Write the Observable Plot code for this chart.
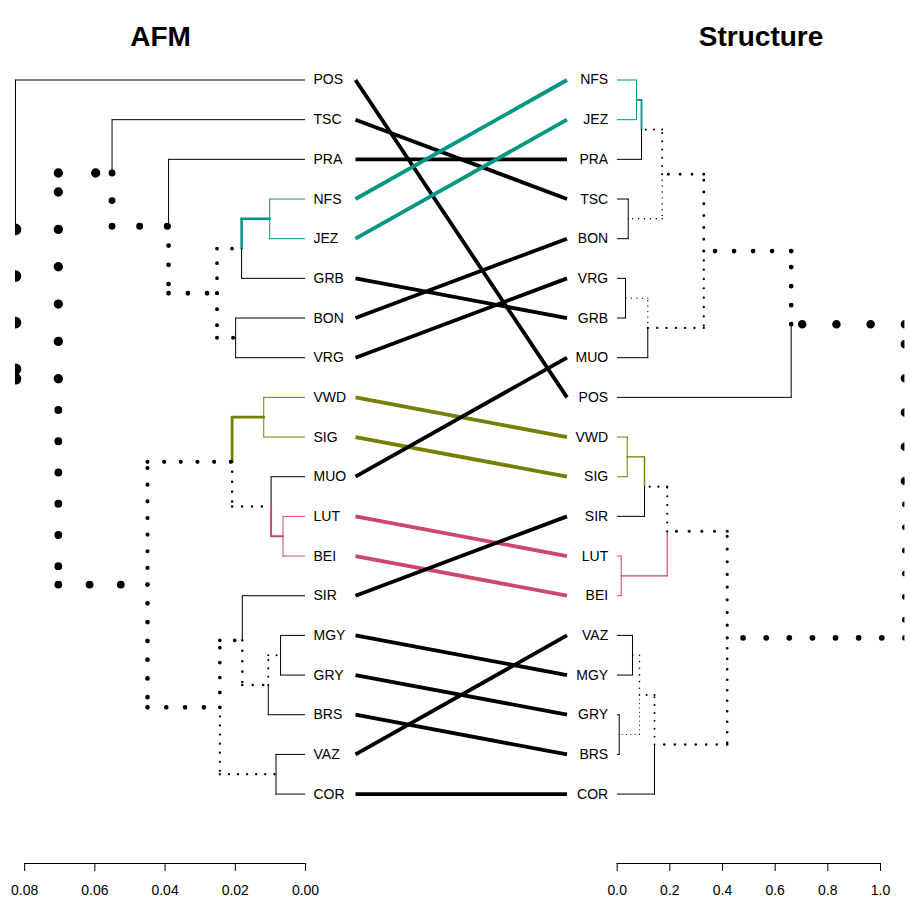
<!DOCTYPE html>
<html>
<head>
<meta charset="utf-8">
<script src="https://cdn.jsdelivr.net/npm/d3@7"></script>
<script src="https://cdn.jsdelivr.net/npm/@observablehq/plot@0.6"></script>
<style>
  body { margin: 0; background: #fff; }
  #chart { position: relative; width: 910px; height: 902px; }
  #chart svg { position: absolute; left: 0; top: 0; }
</style>
</head>
<body>
<div id="chart"></div>
<script>
// Leaf order of each dendrogram, top to bottom
const afmLeaves = ["POS","TSC","PRA","NFS","JEZ","GRB","BON","VRG","VWD","SIG","MUO","LUT","BEI","SIR","MGY","GRY","BRS","VAZ","COR"];
const structureLeaves = ["NFS","JEZ","PRA","TSC","BON","VRG","GRB","MUO","POS","VWD","SIG","SIR","LUT","BEI","VAZ","MGY","GRY","BRS","COR"];

// Merges as [child, child, height]; a child is a leaf label or the index of an earlier merge
const afmMerges = [
  ["NFS", "JEZ", 0.0102],  // 0
  [0, "GRB", 0.0182],      // 1
  ["BON", "VRG", 0.0199],  // 2
  [1, 2, 0.0252],          // 3
  ["PRA", 3, 0.0390],      // 4
  ["TSC", 4, 0.0551],      // 5
  ["VWD", "SIG", 0.0119],  // 6
  ["LUT", "BEI", 0.0064],  // 7
  ["MUO", 7, 0.0098],      // 8
  [6, 8, 0.0209],          // 9
  ["MGY", "GRY", 0.0071],  // 10
  [10, "BRS", 0.0106],     // 11
  ["SIR", 11, 0.0180],     // 12
  ["VAZ", "COR", 0.0084],  // 13
  [12, 13, 0.0244],        // 14
  [9, 14, 0.0450],         // 15
  [5, 15, 0.0704],         // 16
  ["POS", 16, 0.0826]      // 17 (root)
];
const structureMerges = [
  ["NFS", "JEZ", 0.0733],  // 0
  [0, "PRA", 0.0923],      // 1
  ["TSC", "BON", 0.0418],  // 2
  [1, 2, 0.1709],          // 3
  ["VRG", "GRB", 0.0315],  // 4
  [4, "MUO", 0.1162],      // 5
  [3, 5, 0.3289],          // 6
  [6, "POS", 0.6608],      // 7
  ["VWD", "SIG", 0.0380],  // 8
  [8, "SIR", 0.1037],      // 9
  ["LUT", "BEI", 0.0152],  // 10
  [9, 10, 0.1899],         // 11
  ["VAZ", "MGY", 0.0581],  // 12
  ["GRY", "BRS", 0.0076],  // 13
  [12, 13, 0.0847],        // 14
  [14, "COR", 0.1417],     // 15
  [11, 15, 0.4178],        // 16
  [7, 16, 1.0927]          // 17 (root)
];

// Subtrees found in both dendrograms
const commonSubtrees = [["NFS","JEZ"], ["VWD","SIG"], ["LUT","BEI"]];

// Axis ticks
const afmTicks = [0.08, 0.06, 0.04, 0.02, 0.00];
const structureTicks = [0, 0.2, 0.4, 0.6, 0.8, 1.0];

// ---- styling ----
const subtreeColors = ["#009681", "#767F00", "#CC476B"];
const W = 910, H = 902;
const yDomain = [-1.5, 19.75];          // leaf index space, top to bottom
const FONT = "'Liberation Sans', Arial, Helvetica, sans-serif";

function buildTree(leaves, merges) {
  const pos = new Map(leaves.map((l, i) => [l, i]));
  const nodes = [];
  const child = c => typeof c === "number" ? nodes[c]
    : {leaf: true, label: c, y: pos.get(c), h: 0, leaves: [c]};
  merges.forEach(([a, b, h]) => {
    const ca = child(a), cb = child(b);
    nodes.push({leaf: false, y: (ca.y + cb.y) / 2, h, children: [ca, cb], leaves: [...ca.leaves, ...cb.leaves]});
  });
  return nodes;
}
const keyOf = n => n.leaves.slice().sort().join(",");

const afmNodes = buildTree(afmLeaves, afmMerges);
const structureNodes = buildTree(structureLeaves, structureMerges);
const afmKeys = new Set(afmNodes.map(keyOf));
const structureKeys = new Set(structureNodes.map(keyOf));

function groupOf(labels) {
  return commonSubtrees.findIndex(g => labels.every(l => g.includes(l)));
}

// Each edge parent -> child is drawn as two segments: along the leaf axis, then along the height axis
function treeSegments(nodes, otherKeys) {
  const rootH = nodes[nodes.length - 1].h;
  const segs = [];
  nodes.forEach((p, pi) => {
    p.children.forEach((c, ci) => {
      const g = groupOf(c.leaves);
      const style = {
        id: pi + "-" + ci,
        dotted: !c.leaf && !otherKeys.has(keyOf(c)),
        color: g >= 0 ? subtreeColors[g] : "black",
        width: 1 + 12.5 * c.h / rootH
      };
      segs.push({...style, x1: p.h, y1: p.y, x2: p.h, y2: c.y});
      segs.push({...style, x1: p.h, y1: c.y, x2: c.h, y2: c.y});
    });
  });
  return segs;
}

function treeMarks(segs) {
  const solid = segs.filter(s => !s.dotted);
  const marks = [
    Plot.link(solid, {x1: "x1", y1: "y1", x2: "x2", y2: "y2", stroke: "color",
      strokeWidth: "width", strokeLinecap: "round", clip: true})
  ];
  const dotted = d3.groups(segs.filter(s => s.dotted), s => s.id);
  for (const [, pair] of dotted) {
    const w = pair[0].width;
    marks.push(Plot.link(pair, {x1: "x1", y1: "y1", x2: "x2", y2: "y2", stroke: "black",
      strokeWidth: w, strokeDasharray: `0 ${4 * w}`, strokeLinecap: "round", clip: true}));
  }
  return marks;
}

const base = {
  width: W, height: H, marginTop: 20, marginBottom: H - 863,
  style: {background: "transparent", fontFamily: FONT, fontSize: "14px", color: "black", overflow: "visible"}
};
const yScale = {domain: yDomain, reverse: true, axis: null};

// Left dendrogram (AFM)
const afmRoot = afmMerges[afmMerges.length - 1][2];
const left = Plot.plot({
  ...base, marginLeft: 15, marginRight: W - 305,
  x: {domain: [afmRoot, 0]},
  y: yScale,
  marks: [
    ...treeMarks(treeSegments(afmNodes, structureKeys)),
    Plot.text(afmLeaves, {x: () => 0, y: (d, i) => i, text: d => d, dx: 8, textAnchor: "start", fill: "black", fontSize: 14}),
    Plot.text(["AFM"], {frameAnchor: "top", text: d => d, dy: 6, fontSize: 28, fontWeight: "bold", fill: "black"}),
    Plot.ruleY([yDomain[1]], {x1: d3.max(afmTicks), x2: d3.min(afmTicks), stroke: "black"}),
    Plot.axisX(afmTicks, {anchor: "bottom", tickSize: 8, tickPadding: 14, tickFormat: d3.format(".2f"),
      fontSize: 14, label: null, stroke: "black", fill: "black"})
  ]
});

// Right dendrogram (Structure)
const structureRoot = structureMerges[structureMerges.length - 1][2];
const right = Plot.plot({
  ...base, marginLeft: 616.7, marginRight: W - 904.4,
  x: {domain: [0, structureRoot]},
  y: yScale,
  marks: [
    ...treeMarks(treeSegments(structureNodes, afmKeys)),
    Plot.text(structureLeaves, {x: () => 0, y: (d, i) => i, text: d => d, dx: -9, textAnchor: "end", fill: "black", fontSize: 14}),
    Plot.text(["Structure"], {frameAnchor: "top", text: d => d, dy: 6, fontSize: 28, fontWeight: "bold", fill: "black"}),
    Plot.ruleY([yDomain[1]], {x1: d3.min(structureTicks), x2: d3.max(structureTicks), stroke: "black"}),
    Plot.axisX(structureTicks, {anchor: "bottom", tickSize: 8, tickPadding: 14, tickFormat: d3.format(".1f"),
      fontSize: 14, label: null, stroke: "black", fill: "black"})
  ]
});

// Connecting lines between the same label in both trees
const connections = afmLeaves.map((label, i) => {
  const g = groupOf([label]);
  return {label, from: i, to: structureLeaves.indexOf(label), color: g >= 0 ? subtreeColors[g] : "black"};
});
const middle = Plot.plot({
  ...base, marginLeft: 355, marginRight: W - 566.5,
  x: {domain: [0, 1], axis: null},
  y: yScale,
  marks: [
    Plot.link(connections, {x1: () => 0, y1: "from", x2: () => 1, y2: "to", stroke: "color", strokeWidth: 3.8})
  ]
});

const chart = document.getElementById("chart");
chart.append(middle, left, right);
</script>
</body>
</html>
